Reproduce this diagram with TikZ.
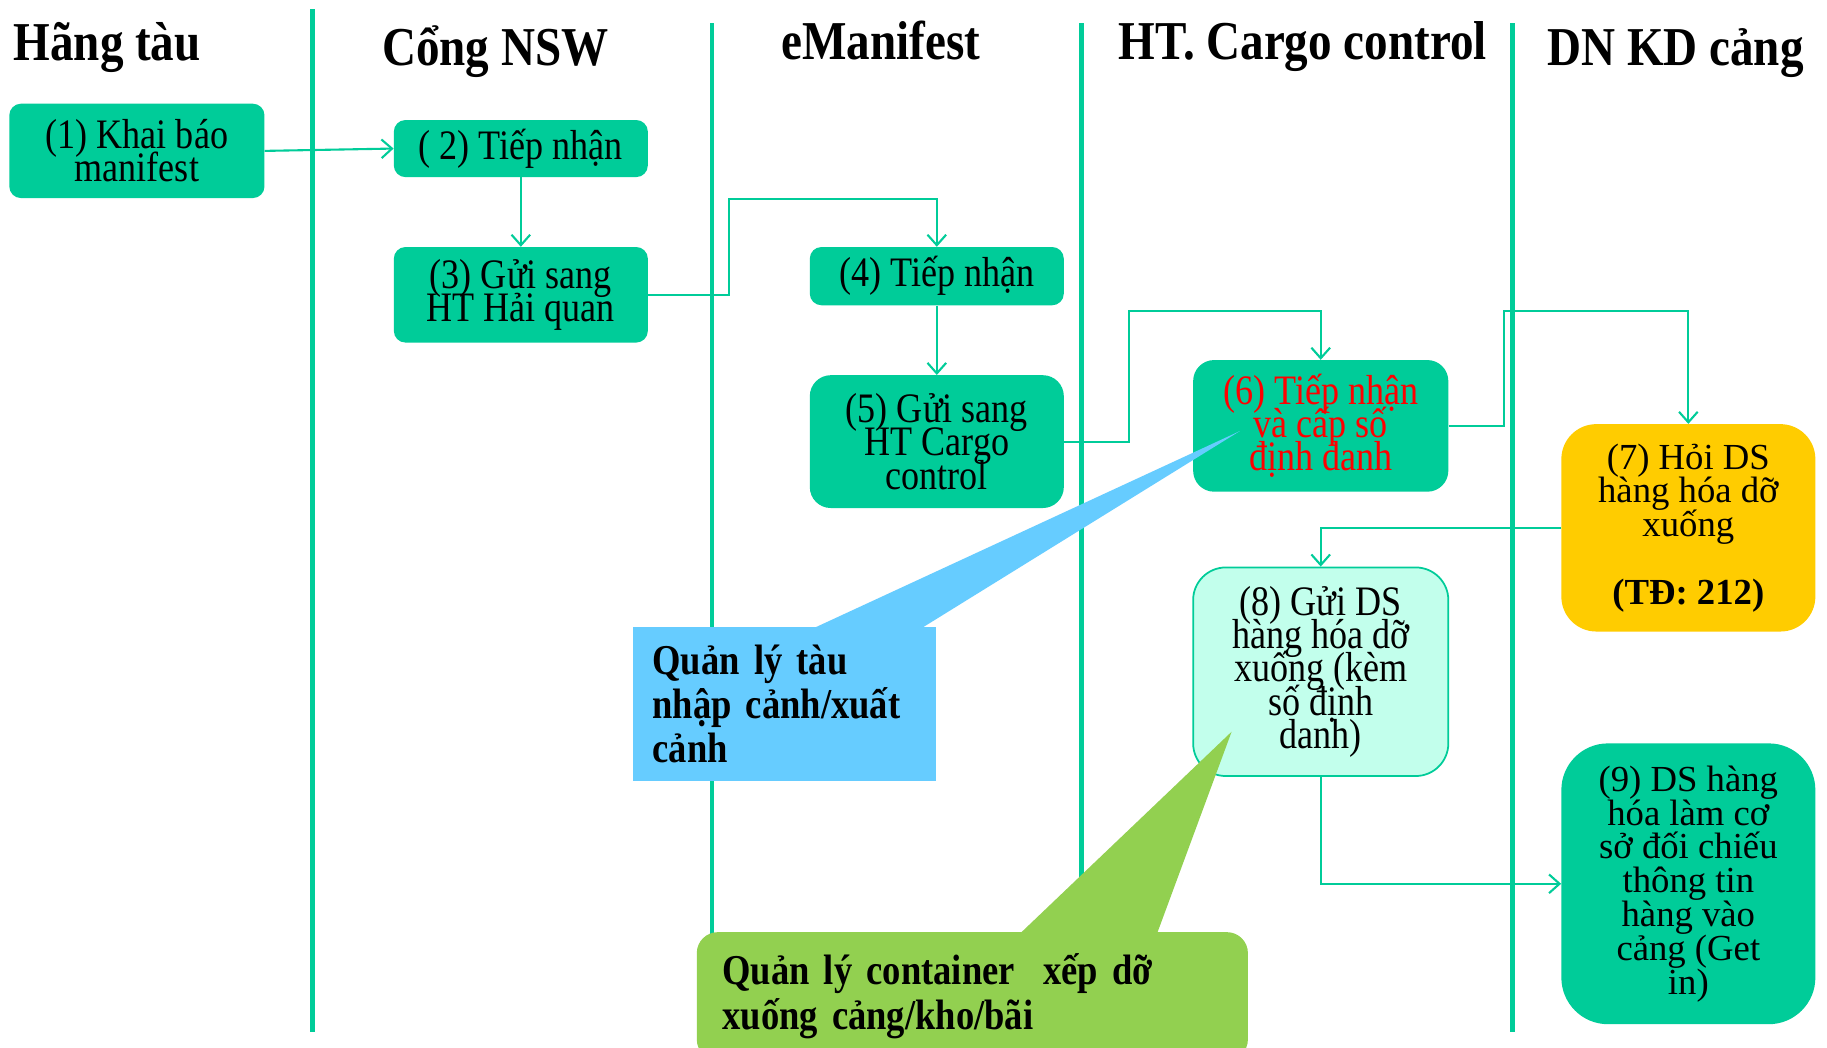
\documentclass[tikz,border=0pt]{standalone}
\usepackage{fontspec}
\setmainfont{Liberation Serif}
\newfontfamily\condfont[FakeStretch=0.86]{Liberation Serif}
\usetikzlibrary{arrows.meta,calc}
\definecolor{teal1}{HTML}{00CC99}
\definecolor{yel}{HTML}{FFCC00}
\definecolor{mint}{HTML}{C2FFEC}
\definecolor{skyb}{HTML}{66CCFF}
\definecolor{lgreen}{HTML}{92D050}
\definecolor{redtxt}{HTML}{FF0000}
\newcommand\tightlines{\lineskiplimit=-1000pt\lineskip=0pt}
\begin{document}
\begin{tikzpicture}[x=1pt,y=-1pt,
  lane/.style={teal1, line width=4pt},
  hdr/.style={font=\condfont\bfseries\fontsize{47}{50}\selectfont, anchor=base, inner sep=0pt},
  box/.style={fill=teal1, rounded corners=10pt, align=center, inner sep=0pt,
     font=\condfont\fontsize{36}{28.5}\selectfont\tightlines},
  bigbox/.style={align=center, inner sep=0pt, font=\fontsize{31.5}{29}\selectfont\tightlines},
  conn/.style={draw=teal1, line width=1.8pt, -{Straight Barb[length=9pt,width=16pt,line width=1.8pt]}},
  callout/.style={align=left, inner xsep=0pt, inner ysep=0pt,
     font=\condfont\bfseries\fontsize{36.5}{38}\selectfont\tightlines}
]
\useasboundingbox (0,0) rectangle (1568,899);
\clip (0,0) rectangle (1568,899);
\fill[white] (0,0) rectangle (1568,899);

% lanes
\draw[lane] (268,8) -- (268,886);
\draw[lane] (611,20) -- (611,886);
\draw[lane] (928,20) -- (928,886);
\draw[lane] (1298,20) -- (1298,886);

% headers
\node[hdr] (h1) at (92,52) {Hãng tàu};
\node[hdr] (h2) at (425,56) {Cổng NSW};
\node[hdr] (h3) at (756,51) {eManifest};
\node[hdr] (h4) at (1118,51) {HT. Cargo control};
\node[hdr] (h5) at (1438,56) {DN KD cảng};

% boxes
\node[box, minimum width=219pt, minimum height=81pt] (n1) at (117.5,129.5) {(1) Khai báo\\manifest};
\node[box, minimum width=218pt, minimum height=49pt] (n2) at (447,127.5) {( 2) Tiếp nhận};
\node[box, minimum width=218pt, minimum height=82pt] (n3) at (447,253) {(3) Gửi sang\\HT Hải quan};
\node[box, minimum width=218pt, minimum height=50pt] (n4) at (804,237) {(4) Tiếp nhận};
\node[box, minimum width=218pt, minimum height=114pt, rounded corners=18pt] (n5) at (804,379) {(5) Gửi sang\\HT Cargo\\control};
\node[box, minimum width=219pt, minimum height=113pt, rounded corners=18pt, text=redtxt] (n6) at (1133.5,365.5) {(6) Tiếp nhận\\và cấp số\\định danh};
\node[box, fill=mint, draw=teal1, line width=1.5pt, minimum width=219pt, minimum height=179pt, rounded corners=28pt] (n8) at (1133.5,576.5) {(8) Gửi DS\\hàng hóa dỡ\\xuống (kèm\\số định\\danh)};
\node[bigbox, fill=yel, rounded corners=30pt, minimum width=218pt, minimum height=178pt] (n7) at (1449,453) {(7) Hỏi DS\\hàng hóa dỡ\\xuống\\~\\\textbf{(TĐ: 212)}};
\node[bigbox, fill=teal1, rounded corners=40pt, minimum width=218pt, minimum height=241pt] (n9) at (1449,758.5) {(9) DS hàng\\hóa làm cơ\\sở đối chiếu\\thông tin\\hàng vào\\cảng (Get\\in)};

% connector bends
\coordinate (b34) at (626,171);
\coordinate (b56) at (969,267);
\coordinate (b67) at (1291,267);

\draw[conn] (n1.east) -- (n2.west);
\draw[conn] (n2.south) -- (n3.north);
\draw[conn] (n3.east) -| (b34) -| (n4.north);
\draw[conn] (n4.south) -- (n5.north);
\draw[conn] (n5.east) -| (b56) -| (n6.north);
\draw[conn] (n6.east) -| (b67) -| (n7.north);
\draw[conn] (n7.west) -| (n8.north);
\draw[conn] (n8.south) |- (n9.west);

% callouts
\node[callout, fill=skyb, text width=226pt, inner xsep=17pt, minimum height=132pt] (cb) at (673,604) {Quản lý tàu\\nhập cảnh/xuất\\cảnh};
\coordinate (tipb) at (1064,370);
\fill[skyb] ($(cb.north west)+(154,2)$) -- (tipb) -- ($(cb.north west)+(247,2)$) -- cycle;

\node[callout, fill=lgreen, rounded corners=18pt, text width=429pt, inner xsep=22pt, minimum height=110pt] (cg) at (834.5,855) {Quản lý container\ \ xếp dỡ\\xuống cảng/kho/bãi};
\coordinate (tipg) at (1057,628);
\fill[lgreen] ($(cg.north west)+(277,2)$) -- (tipg) -- ($(cg.north west)+(395,2)$) -- cycle;
\end{tikzpicture}
\end{document}
